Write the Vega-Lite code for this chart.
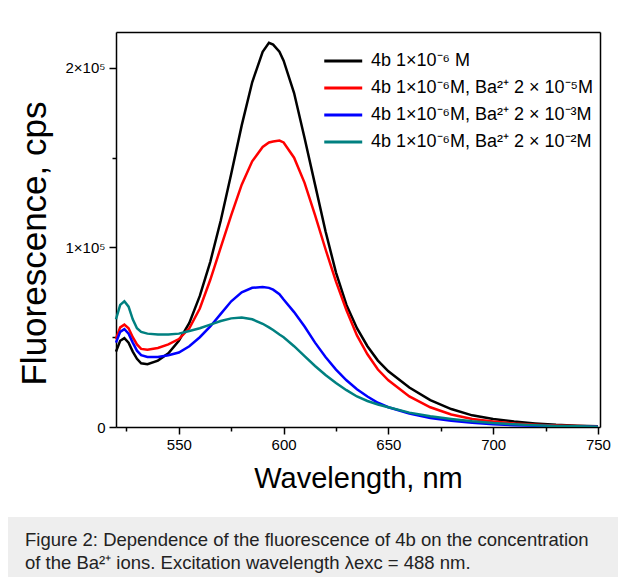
{
  "$schema": "https://vega.github.io/schema/vega-lite/v6.json",
  "background": "white",
  "padding": {"left": 8, "top": 32, "right": 0, "bottom": 0},
  "spacing": 24,
  "config": {
    "font": "Liberation Sans",
    "axis": {"grid": false, "domainColor": "black", "domainWidth": 1.5, "tickColor": "black", "tickWidth": 1.5, "labelColor": "black", "labelFontSize": 15, "labelFont": "Liberation Sans", "titleFont": "Liberation Sans", "titleFontWeight": "normal", "titleColor": "black", "titleFontSize": 29, "labelOverlap": false}
  },
  "vconcat": [
    {
      "width": 592,
      "height": 395,
      "view": {"stroke": null, "fill": "white"},
      "data": {"values": [
        {"wl": 520, "k1": 42000, "k2": 49000, "k3": 47000, "k4": 60000},
        {"wl": 522, "k1": 48000, "k2": 55500, "k3": 53000, "k4": 68000},
        {"wl": 524, "k1": 49500, "k2": 57000, "k3": 54500, "k4": 70000},
        {"wl": 526, "k1": 47000, "k2": 55000, "k3": 52000, "k4": 67000},
        {"wl": 528, "k1": 42000, "k2": 50000, "k3": 47000, "k4": 60000},
        {"wl": 530, "k1": 38000, "k2": 46000, "k3": 42500, "k4": 55000},
        {"wl": 532, "k1": 35500, "k2": 43500, "k3": 40000, "k4": 53000},
        {"wl": 535, "k1": 35000, "k2": 43000, "k3": 39000, "k4": 52000},
        {"wl": 540, "k1": 37000, "k2": 44000, "k3": 39000, "k4": 51500},
        {"wl": 545, "k1": 41000, "k2": 46000, "k3": 40000, "k4": 51500},
        {"wl": 550, "k1": 48000, "k2": 49000, "k3": 41500, "k4": 52000},
        {"wl": 555, "k1": 58000, "k2": 55000, "k3": 45000, "k4": 53500},
        {"wl": 560, "k1": 73000, "k2": 66000, "k3": 50000, "k4": 55000},
        {"wl": 565, "k1": 92000, "k2": 82000, "k3": 56000, "k4": 57000},
        {"wl": 570, "k1": 115000, "k2": 100000, "k3": 63000, "k4": 59000},
        {"wl": 575, "k1": 141000, "k2": 118000, "k3": 70000, "k4": 60500},
        {"wl": 580, "k1": 168000, "k2": 135000, "k3": 75000, "k4": 61000},
        {"wl": 585, "k1": 192000, "k2": 148000, "k3": 77500, "k4": 60000},
        {"wl": 590, "k1": 209000, "k2": 156000, "k3": 78000, "k4": 57500},
        {"wl": 593, "k1": 214000, "k2": 158500, "k3": 77500, "k4": 55500},
        {"wl": 595, "k1": 213000, "k2": 159000, "k3": 76500, "k4": 54000},
        {"wl": 598, "k1": 209000, "k2": 159500, "k3": 74000, "k4": 51500},
        {"wl": 600, "k1": 204000, "k2": 158500, "k3": 71000, "k4": 50000},
        {"wl": 605, "k1": 186000, "k2": 150000, "k3": 64000, "k4": 45000},
        {"wl": 610, "k1": 161000, "k2": 136000, "k3": 56000, "k4": 39500},
        {"wl": 615, "k1": 135000, "k2": 118000, "k3": 47000, "k4": 34000},
        {"wl": 620, "k1": 109000, "k2": 99000, "k3": 39000, "k4": 29000},
        {"wl": 625, "k1": 86000, "k2": 81000, "k3": 32000, "k4": 24500},
        {"wl": 630, "k1": 68000, "k2": 65000, "k3": 26000, "k4": 20500},
        {"wl": 635, "k1": 55000, "k2": 51000, "k3": 21000, "k4": 17000},
        {"wl": 640, "k1": 45000, "k2": 40500, "k3": 17000, "k4": 14500},
        {"wl": 645, "k1": 37000, "k2": 32000, "k3": 13500, "k4": 12500},
        {"wl": 650, "k1": 31000, "k2": 26000, "k3": 11000, "k4": 11000},
        {"wl": 660, "k1": 22000, "k2": 17000, "k3": 7500, "k4": 8000},
        {"wl": 670, "k1": 15000, "k2": 11000, "k3": 5000, "k4": 6000},
        {"wl": 680, "k1": 10000, "k2": 7000, "k3": 3500, "k4": 4500},
        {"wl": 690, "k1": 6500, "k2": 4500, "k3": 2300, "k4": 3200},
        {"wl": 700, "k1": 4500, "k2": 3000, "k3": 1500, "k4": 2200},
        {"wl": 710, "k1": 3000, "k2": 2000, "k3": 1000, "k4": 1500},
        {"wl": 720, "k1": 2000, "k2": 1300, "k3": 700, "k4": 1000},
        {"wl": 730, "k1": 1200, "k2": 800, "k3": 400, "k4": 600},
        {"wl": 740, "k1": 700, "k2": 500, "k3": 300, "k4": 400},
        {"wl": 750, "k1": 400, "k2": 300, "k3": 200, "k4": 200}
      ]},
      "transform": [{"fold": ["k1", "k2", "k3", "k4"], "as": ["s", "f"]}],
      "layer": [
        {
          "mark": {"type": "line", "strokeWidth": 2.5, "clip": true},
          "encoding": {
            "x": {
              "field": "wl", "type": "quantitative",
              "scale": {"domain": [520, 751], "nice": false, "zero": false, "range": [108, 592]},
              "axis": {
                "orient": "bottom",
                "title": "Wavelength, nm",
                "values": [525, 550, 575, 600, 625, 650, 675, 700, 725, 750],
                "labelExpr": "datum.value % 50 === 0 ? datum.label : ''",
                "tickSize": {"condition": {"test": "datum.value % 50 === 0", "value": 7}, "value": 4},
                "labelPadding": 3,
                "titlePadding": 12
              }
            },
            "y": {
              "field": "f", "type": "quantitative",
              "scale": {"domain": [0, 220000], "nice": false},
              "axis": {
                "orient": "left",
                "offset": -108,
                "title": "Fluorescence, cps",
                "titleFontSize": 35,
                "titleY": 211,
                "values": [0, 50000, 100000, 150000, 200000],
                "labelExpr": "datum.value === 0 ? '0' : datum.value === 100000 ? '1×10⁵' : datum.value === 200000 ? '2×10⁵' : ''",
                "tickSize": {"condition": {"test": "datum.value % 100000 === 0", "value": 7}, "value": 4},
                "labelPadding": 4,
                "titlePadding": 12
              }
            },
            "color": {
              "field": "s", "type": "nominal",
              "scale": {"domain": ["k1", "k2", "k3", "k4"], "range": ["#000000", "#ff0000", "#0000ff", "#008080"]},
              "legend": {
                "orient": "none", "legendX": 312, "legendY": 20, "title": null, "padding": 0,
                "symbolType": "M-1,0H7", "symbolSize": 90, "symbolStrokeWidth": 3,
                "labelFontSize": 18, "labelFont": "Liberation Sans", "labelColor": "black", "labelOffset": 33, "labelLimit": 400,
                "rowPadding": 9,
                "labelExpr": "{'k1': '4b 1×10⁻⁶ M', 'k2': '4b 1×10⁻⁶M, Ba²⁺ 2 × 10⁻⁵M', 'k3': '4b 1×10⁻⁶M, Ba²⁺ 2 × 10⁻³M', 'k4': '4b 1×10⁻⁶M, Ba²⁺ 2 × 10⁻²M'}[datum.label]"
              }
            }
          }
        },
        {
          "mark": {"type": "line", "opacity": 0},
          "encoding": {
            "x": {"field": "wl", "type": "quantitative", "axis": {"orient": "top", "ticks": false, "labels": false, "title": null}},
            "y": {"field": "f", "type": "quantitative", "axis": {"orient": "right", "ticks": false, "labels": false, "title": null}}
          }
        }
      ],
      "resolve": {"axis": {"x": "independent", "y": "independent"}}
    },
    {
      "width": 610,
      "height": 61,
      "view": {"fill": "#eeeeee", "stroke": null},
      "data": {"values": [
        {"line": 1, "text": "Figure 2: Dependence of the fluorescence of 4b on the concentration"},
        {"line": 2, "text": "of the Ba²⁺ ions. Excitation wavelength λexc = 488 nm."}
      ]},
      "mark": {"type": "text", "align": "left", "baseline": "alphabetic", "fontSize": 18.5, "font": "Liberation Sans", "color": "#222222", "dx": 17},
      "encoding": {
        "x": {"datum": 0, "type": "quantitative", "scale": {"domain": [0, 1]}, "axis": null},
        "y": {"field": "line", "type": "ordinal", "scale": {"type": "point", "range": [29, 52], "padding": 0}, "axis": null},
        "text": {"field": "text"}
      }
    }
  ]
}
